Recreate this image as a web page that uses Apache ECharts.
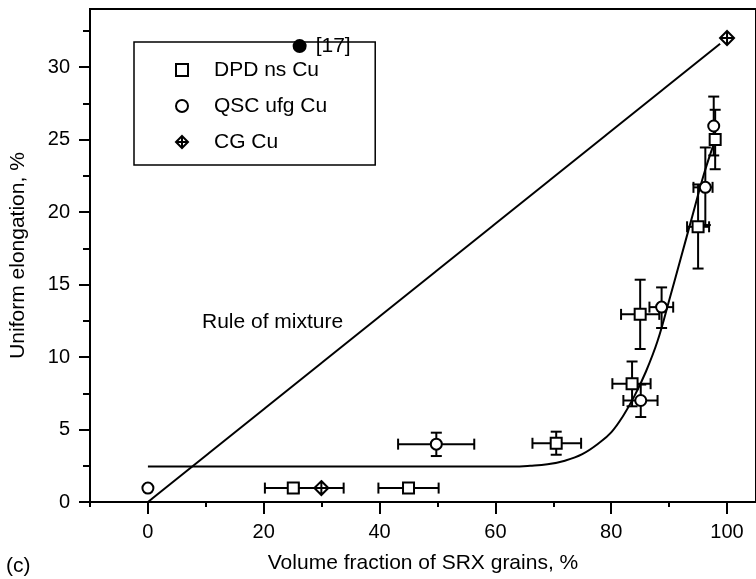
<!DOCTYPE html>
<html><head><meta charset="utf-8">
<script src="https://cdn.jsdelivr.net/npm/echarts@6/dist/echarts.min.js"></script>
<style>html,body{margin:0;padding:0;background:#fff}#c{width:756px;height:579px}</style>
</head><body><div id="c"></div>
<script>
const FONT = '"Liberation Sans", Arial, Helvetica, sans-serif';

// Tick values
const xTicksMajor = [0, 20, 40, 60, 80, 100];
const xTicksMinor = [-10, 10, 30, 50, 70, 90];
const yTicksMajor = [0, 5, 10, 15, 20, 25, 30];
const yTicksMinor = [2.5, 7.5, 12.5, 17.5, 22.5, 27.5, 32.5];

// DPD ns Cu
const dpdX     = [25.1, 45.0, 70.5, 83.6, 85.0, 95.0, 97.95];
const dpdY     = [0.96, 0.96, 4.05, 8.16, 12.94, 18.98, 25.0];
const dpdXLow  = [20.2, 39.8, 66.4, 80.2, 81.7, 93.1, null];
const dpdXHigh = [30.0, 50.2, 74.8, 86.8, 88.3, 96.9, null];
const dpdYLow  = [null, null, 3.26, 6.6, 10.55, 16.1, 22.95];
const dpdYHigh = [null, null, 4.85, 9.69, 15.33, 21.9, 27.05];

// QSC ufg Cu
const qscX     = [0, 49.8, 85.1, 88.7, 96.25, 97.7];
const qscY     = [0.96, 3.99, 7.0, 13.44, 21.7, 25.93];
const qscXLow  = [null, 43.2, 82.1, 86.6, 94.2, null];
const qscXHigh = [null, 56.35, 88.0, 90.7, 97.5, null];
const qscYLow  = [null, 3.17, 5.86, 12.0, 19.1, 23.9];
const qscYHigh = [null, 4.78, 8.1, 14.8, 24.45, 27.96];

// CG Cu
const cgX     = [29.95, 100];
const cgY     = [0.96, 32.0];
const cgXLow  = [26.0, null];
const cgXHigh = [33.8, null];
const cgYLow  = [null, null];
const cgYHigh = [null, null];

// Reference [17]
const refX = [26.2];
const refY = [31.44];

// Rule of mixture line
const mixX = [0, 98.8];
const mixY = [0, 31.6];

// Fitted curve
const fitX = [0, 20, 40, 60, 63, 66, 69, 72, 75, 78, 80, 82, 84, 86, 88, 90, 92, 94, 96, 97.8];
const fitY = [2.45, 2.45, 2.45, 2.45, 2.45, 2.5, 2.6, 2.85, 3.3, 4.1, 4.8, 5.9, 7.3, 9.0, 11.1, 13.9, 16.8, 19.7, 22.6, 24.8];

function zip(xs, ys) { return xs.map((x, i) => [x, ys[i]]); }
function errData(xs, ys, xl, xh, yl, yh) {
  return xs.map((x, i) => [x, ys[i],
    xl[i] == null ? x : xl[i], xh[i] == null ? x : xh[i],
    yl[i] == null ? ys[i] : yl[i], yh[i] == null ? ys[i] : yh[i]]);
}
function errRender(params, api) {
  const x = api.value(0), y = api.value(1);
  const xl = api.value(2), xh = api.value(3), yl = api.value(4), yh = api.value(5);
  const cap = 5.5;
  const st = { stroke: '#000', lineWidth: 2 };
  const ch = [];
  if (xl !== xh) {
    const a = api.coord([xl, y]), b = api.coord([xh, y]);
    ch.push({ type: 'line', shape: { x1: a[0], y1: a[1], x2: b[0], y2: b[1] }, style: st });
    ch.push({ type: 'line', shape: { x1: a[0], y1: a[1] - cap, x2: a[0], y2: a[1] + cap }, style: st });
    ch.push({ type: 'line', shape: { x1: b[0], y1: b[1] - cap, x2: b[0], y2: b[1] + cap }, style: st });
  }
  if (yl !== yh) {
    const a = api.coord([x, yl]), b = api.coord([x, yh]);
    ch.push({ type: 'line', shape: { x1: a[0], y1: a[1], x2: b[0], y2: b[1] }, style: st });
    ch.push({ type: 'line', shape: { x1: a[0] - cap, y1: a[1], x2: a[0] + cap, y2: a[1] }, style: st });
    ch.push({ type: 'line', shape: { x1: b[0] - cap, y1: b[1], x2: b[0] + cap, y2: b[1] }, style: st });
  }
  return { type: 'group', children: ch };
}

const DIAMOND = 'path://M10,0L20,10L10,20L0,10ZM10,0L10,20M0,10L20,10';
const markerStyle = { color: '#fff', borderColor: '#000', borderWidth: 2, opacity: 1 };
const axisLineStyle = { color: '#000', width: 2 };

const chart = echarts.init(document.getElementById('c'), null, { renderer: 'canvas' });
chart.setOption({
  backgroundColor: '#fff',
  animation: false,
  textStyle: { fontFamily: FONT, color: '#000' },
  grid: { left: 87, top: 9, width: 671, height: 496, show: true, borderColor: '#000', borderWidth: 2, backgroundColor: 'transparent' },
  xAxis: [{
    type: 'value', min: -10, max: 105, position: 'bottom',
    name: 'Volume fraction of SRX grains, %', nameLocation: 'middle', nameGap: 51,
    nameTextStyle: { fontSize: 21, color: '#000', fontFamily: FONT },
    axisLine: { show: true, onZero: false, lineStyle: axisLineStyle },
    axisTick: { show: true, length: 12, lineStyle: axisLineStyle, customValues: xTicksMajor },
    axisLabel: { show: true, fontSize: 20, color: '#000', fontFamily: FONT, margin: 20, customValues: xTicksMajor },
    splitLine: { show: false }
  }, {
    type: 'value', min: -10, max: 105, position: 'bottom', gridIndex: 0,
    axisLine: { show: false, onZero: false },
    axisTick: { show: true, length: 5, lineStyle: axisLineStyle, customValues: xTicksMinor },
    axisLabel: { show: false, customValues: xTicksMinor },
    splitLine: { show: false }
  }],
  yAxis: [{
    type: 'value', min: 0, max: 34, position: 'left',
    name: 'Uniform elongation, %', nameLocation: 'middle', nameGap: 61,
    nameTextStyle: { fontSize: 21, color: '#000', fontFamily: FONT },
    axisLine: { show: true, onZero: false, lineStyle: axisLineStyle },
    axisTick: { show: true, length: 11, lineStyle: axisLineStyle, customValues: yTicksMajor },
    axisLabel: { show: true, fontSize: 20, color: '#000', fontFamily: FONT, margin: 20, customValues: yTicksMajor },
    splitLine: { show: false }
  }, {
    type: 'value', min: 0, max: 34, position: 'left', gridIndex: 0,
    axisLine: { show: false, onZero: false },
    axisTick: { show: true, length: 7, lineStyle: axisLineStyle, customValues: yTicksMinor },
    axisLabel: { show: false, customValues: yTicksMinor },
    splitLine: { show: false }
  }],
  legend: {
    orient: 'vertical', left: 134, top: 42,
    data: ['DPD ns Cu', 'QSC ufg Cu', 'CG Cu'],
    itemWidth: 12, itemHeight: 12, itemGap: 14,
    padding: [17, 48, 12, 41],
    borderColor: '#000', borderWidth: 1.5,
    itemStyle: { color: '#fff', borderColor: '#000', borderWidth: 2, opacity: 1 },
    textStyle: { fontSize: 21, fontFamily: FONT, color: '#000', padding: [0, 0, 0, 21], lineHeight: 22 },
    selectedMode: false
  },
  graphic: [
    { type: 'text', left: 202, top: 312, style: { text: 'Rule of mixture', fontSize: 21, fontFamily: FONT, fill: '#000' } },
    { type: 'text', left: 6, top: 556, style: { text: '(c)', fontSize: 21, fontFamily: FONT, fill: '#000' } }
  ],
  series: [
    { name: 'Rule of mixture', type: 'line', data: zip(mixX, mixY), symbol: 'none', lineStyle: { color: '#000', width: 2 }, z: 2, silent: true },
    { name: 'fit', type: 'line', data: zip(fitX, fitY), symbol: 'none', smooth: 0.4, lineStyle: { color: '#000', width: 2 }, z: 2, silent: true },
    { name: 'DPD err', type: 'custom', renderItem: errRender, data: errData(dpdX, dpdY, dpdXLow, dpdXHigh, dpdYLow, dpdYHigh), encode: { x: [0, 2, 3], y: [1, 4, 5] }, z: 3, silent: true },
    { name: 'QSC err', type: 'custom', renderItem: errRender, data: errData(qscX, qscY, qscXLow, qscXHigh, qscYLow, qscYHigh), encode: { x: [0, 2, 3], y: [1, 4, 5] }, z: 3, silent: true },
    { name: 'CG err', type: 'custom', renderItem: errRender, data: errData(cgX, cgY, cgXLow, cgXHigh, cgYLow, cgYHigh), encode: { x: [0, 2, 3], y: [1, 4, 5] }, z: 3, silent: true },
    { name: 'DPD ns Cu', type: 'scatter', data: zip(dpdX, dpdY), symbol: 'rect', symbolSize: 11, itemStyle: markerStyle, z: 4 },
    { name: 'QSC ufg Cu', type: 'scatter', data: zip(qscX, qscY), symbol: 'circle', symbolSize: 11, itemStyle: markerStyle, z: 4 },
    { name: 'CG Cu', type: 'scatter', data: zip(cgX, cgY), symbol: DIAMOND, symbolSize: 14, itemStyle: markerStyle, z: 4 },
    { name: '[17]', type: 'scatter', data: zip(refX, refY), symbol: 'circle', symbolSize: 14, itemStyle: { color: '#000', opacity: 1 }, z: 5,
      label: { show: true, position: 'right', distance: 9, formatter: '[17]', fontSize: 21, fontFamily: FONT, color: '#000' } }
  ]
});
</script>
</body></html>
